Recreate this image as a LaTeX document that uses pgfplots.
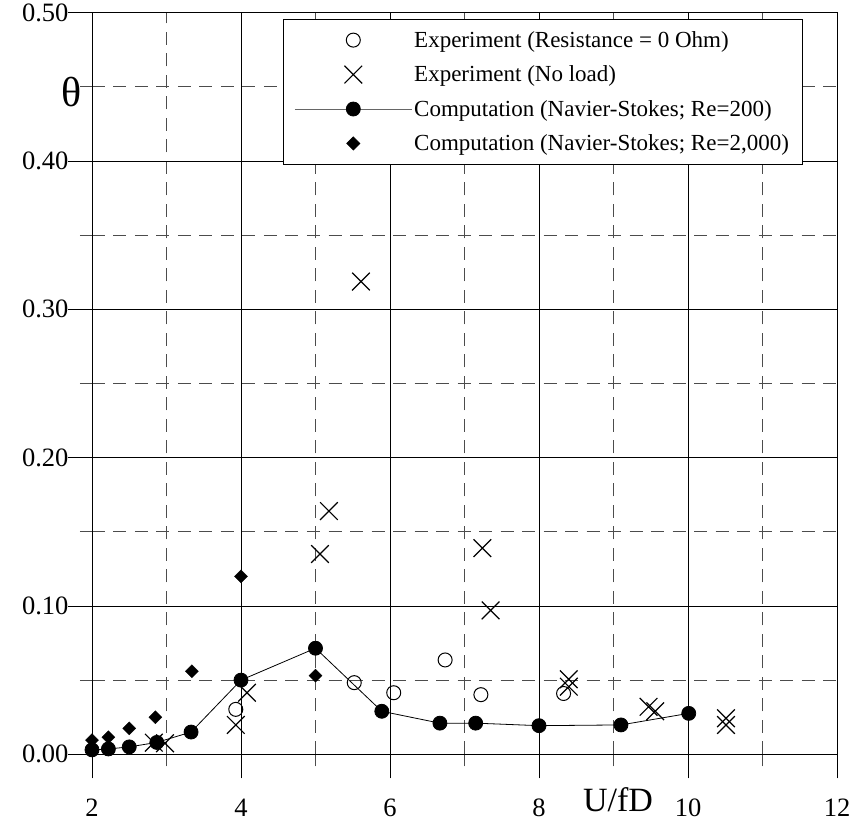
\documentclass[border=0pt]{standalone}
\usepackage{fontspec}
\setmainfont{Liberation Serif}
\usepackage{pgfplots}
\pgfplotsset{compat=1.18}
\begin{document}
\begin{tikzpicture}
\begin{axis}[
 at={(0pt,0pt)}, anchor=south west,
 scale only axis, width=745pt, height=741.7pt,
 xmin=2, xmax=12, ymin=0, ymax=0.5,
 xtick={2,4,6,8,10,12}, ytick={0,0.1,0.2,0.3,0.4,0.5},
 minor x tick num=1, minor y tick num=1,
 grid=both,
 major grid style={black, line width=0.8pt},
 minor grid style={black!70, line width=0.8pt, dash pattern=on 13pt off 8.5pt},
 axis line style={black, line width=0.8pt},
 tick align=outside, tick pos=left,
 major tick length=24pt, minor tick length=12pt,
 major tick style={black, line width=0.8pt},
 minor tick style={black!70, line width=0.8pt},
 /pgf/number format/assume math mode=true,
 tick label style={font=\fontsize{26.5}{30}\selectfont},
 yticklabel style={/pgf/number format/.cd, fixed, fixed zerofill, precision=2},
 xticklabel style={/pgf/number format/.cd, fixed, precision=0},
 xticklabel shift=17pt,
 yticklabel shift=-4pt,
 xlabel={U/fD},
 xlabel style={at={(rel axis cs:0.706,0)}, anchor=center, yshift=-45pt, font=\fontsize{34}{38}\selectfont},
 ylabel={θ},
 ylabel style={at={(rel axis cs:-0.0268,0.8925)}, rotate=-90, anchor=center, font=\fontsize{42}{46}\selectfont},
 legend style={at={(rel axis cs:0.2564,0.9914)}, anchor=north west, draw=black, line width=0.8pt,
   font=\fontsize{23}{27}\selectfont, row sep=13pt, inner xsep=11pt, inner ysep=10pt,
   /tikz/every even column/.append style={column sep=13pt}},
 legend cell align=left,
 legend image code/.code={\draw[mark repeat=2,mark phase=2,#1] plot coordinates {(0pt,0pt) (58.5pt,0pt) (117pt,0pt)};},
 clip=false,
]
% Experiment (Resistance = 0 Ohm)
\addplot[only marks, mark=o, mark size=7pt, mark options={line width=1pt, fill=white}] coordinates {
 (3.93,0.0303) (5.52,0.0483) (6.05,0.0415) (6.74,0.0636) (7.22,0.0402) (8.33,0.041)
};
\addlegendentry{Experiment (Resistance = 0 Ohm)}
% Experiment (No load)
\addplot[only marks, mark=x, mark size=12.5pt, mark options={line width=1.2pt}] coordinates {
 (5.61,0.3187) (5.18,0.164) (5.06,0.135) (4.08,0.0415) (3.93,0.0198)
 (2.83,0.0078) (2.98,0.0074) (7.24,0.139) (7.35,0.097)
 (8.40,0.0506) (8.40,0.0456) (9.47,0.032) (9.56,0.029)
 (10.51,0.0243) (10.51,0.0198)
};
\addlegendentry{Experiment (No load)}
% Computation Re=200
\addplot[black, line width=0.8pt, mark=*, mark size=7pt,
 legend image code/.code={\draw[black!60, line width=0.8pt] (0pt,0pt) -- (117pt,0pt); \fill[black] (58.5pt,0pt) circle (7pt);}] coordinates {
 (2.0,0.003) (2.22,0.0036) (2.5,0.005) (2.87,0.008) (3.33,0.015) (4.0,0.050)
 (5.0,0.0715) (5.89,0.029) (6.67,0.021) (7.15,0.021) (8.0,0.0193) (9.1,0.0198) (10.01,0.0276)
};
\addlegendentry{Computation (Navier-Stokes; Re=200)}
% Computation Re=2000
\addplot[only marks, mark=square*, mark size=4.6pt, mark options={rotate=45, black}] coordinates {
 (2.0,0.0096) (2.22,0.0115) (2.5,0.0175) (2.85,0.025) (3.34,0.056) (4.0,0.120) (5.0,0.053)
};
\addlegendentry{Computation (Navier-Stokes; Re=2,000)}
\end{axis}
\path (-92pt,-68.7pt) rectangle (763pt,754.3pt);
\end{tikzpicture}
\end{document}
